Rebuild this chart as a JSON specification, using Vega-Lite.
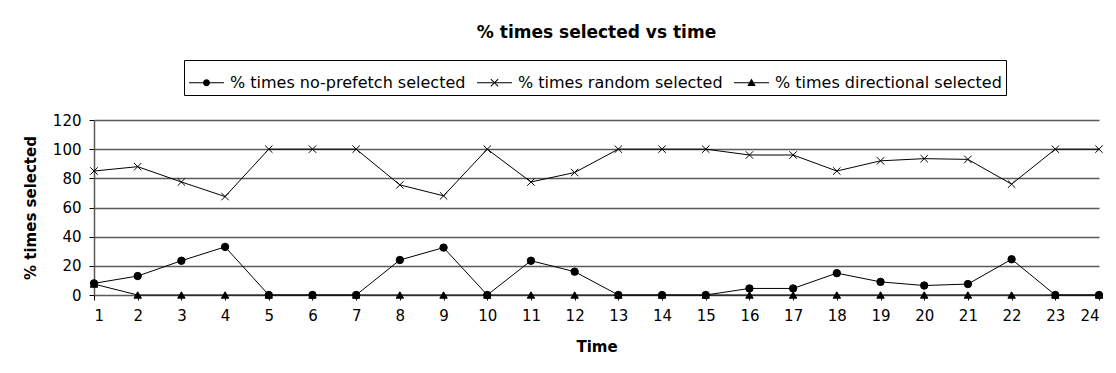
{
  "$schema": "https://vega.github.io/schema/vega-lite/v6.json",
  "autosize": {"type": "none"},
  "width": 1005,
  "height": 175,
  "padding": {"left": 94, "top": 120, "right": 17, "bottom": 78},
  "background": "white",
  "title": {
    "text": "% times selected vs time",
    "font": "DejaVu Sans",
    "fontSize": 17,
    "fontWeight": "bold",
    "color": "black",
    "anchor": "middle",
    "frame": "group",
    "baseline": "bottom",
    "offset": 1
  },
  "config": {
    "view": {"stroke": null},
    "axis": {
      "labelFont": "DejaVu Sans",
      "labelFontSize": 15,
      "labelColor": "black",
      "titleFont": "DejaVu Sans",
      "titleFontSize": 15,
      "titleFontWeight": "bold",
      "titleColor": "black",
      "tickColor": "black",
      "tickSize": 5,
      "domainColor": "black"
    },
    "legend": {
      "labelFont": "DejaVu Sans",
      "labelFontSize": 16,
      "labelColor": "black",
      "labelLimit": 0
    }
  },
  "data": {
    "values": [
      {"t": 1, "series": "% times no-prefetch selected", "v": 8},
      {"t": 2, "series": "% times no-prefetch selected", "v": 13},
      {"t": 3, "series": "% times no-prefetch selected", "v": 23.5},
      {"t": 4, "series": "% times no-prefetch selected", "v": 33},
      {"t": 5, "series": "% times no-prefetch selected", "v": 0},
      {"t": 6, "series": "% times no-prefetch selected", "v": 0},
      {"t": 7, "series": "% times no-prefetch selected", "v": 0},
      {"t": 8, "series": "% times no-prefetch selected", "v": 24},
      {"t": 9, "series": "% times no-prefetch selected", "v": 32.5},
      {"t": 10, "series": "% times no-prefetch selected", "v": 0},
      {"t": 11, "series": "% times no-prefetch selected", "v": 23.5},
      {"t": 12, "series": "% times no-prefetch selected", "v": 16},
      {"t": 13, "series": "% times no-prefetch selected", "v": 0},
      {"t": 14, "series": "% times no-prefetch selected", "v": 0},
      {"t": 15, "series": "% times no-prefetch selected", "v": 0},
      {"t": 16, "series": "% times no-prefetch selected", "v": 4.5},
      {"t": 17, "series": "% times no-prefetch selected", "v": 4.5},
      {"t": 18, "series": "% times no-prefetch selected", "v": 15},
      {"t": 19, "series": "% times no-prefetch selected", "v": 9},
      {"t": 20, "series": "% times no-prefetch selected", "v": 6.5},
      {"t": 21, "series": "% times no-prefetch selected", "v": 7.5},
      {"t": 22, "series": "% times no-prefetch selected", "v": 24.5},
      {"t": 23, "series": "% times no-prefetch selected", "v": 0},
      {"t": 24, "series": "% times no-prefetch selected", "v": 0},
      {"t": 1, "series": "% times random selected", "v": 85},
      {"t": 2, "series": "% times random selected", "v": 88},
      {"t": 3, "series": "% times random selected", "v": 77.5},
      {"t": 4, "series": "% times random selected", "v": 67.5},
      {"t": 5, "series": "% times random selected", "v": 100},
      {"t": 6, "series": "% times random selected", "v": 100},
      {"t": 7, "series": "% times random selected", "v": 100},
      {"t": 8, "series": "% times random selected", "v": 75.5},
      {"t": 9, "series": "% times random selected", "v": 68},
      {"t": 10, "series": "% times random selected", "v": 100},
      {"t": 11, "series": "% times random selected", "v": 77.5},
      {"t": 12, "series": "% times random selected", "v": 84},
      {"t": 13, "series": "% times random selected", "v": 100},
      {"t": 14, "series": "% times random selected", "v": 100},
      {"t": 15, "series": "% times random selected", "v": 100},
      {"t": 16, "series": "% times random selected", "v": 96},
      {"t": 17, "series": "% times random selected", "v": 96},
      {"t": 18, "series": "% times random selected", "v": 85},
      {"t": 19, "series": "% times random selected", "v": 92},
      {"t": 20, "series": "% times random selected", "v": 93.5},
      {"t": 21, "series": "% times random selected", "v": 93},
      {"t": 22, "series": "% times random selected", "v": 76},
      {"t": 23, "series": "% times random selected", "v": 100},
      {"t": 24, "series": "% times random selected", "v": 100},
      {"t": 1, "series": "% times directional selected", "v": 7.5},
      {"t": 2, "series": "% times directional selected", "v": 0},
      {"t": 3, "series": "% times directional selected", "v": 0},
      {"t": 4, "series": "% times directional selected", "v": 0},
      {"t": 5, "series": "% times directional selected", "v": 0},
      {"t": 6, "series": "% times directional selected", "v": 0},
      {"t": 7, "series": "% times directional selected", "v": 0},
      {"t": 8, "series": "% times directional selected", "v": 0},
      {"t": 9, "series": "% times directional selected", "v": 0},
      {"t": 10, "series": "% times directional selected", "v": 0},
      {"t": 11, "series": "% times directional selected", "v": 0},
      {"t": 12, "series": "% times directional selected", "v": 0},
      {"t": 13, "series": "% times directional selected", "v": 0},
      {"t": 14, "series": "% times directional selected", "v": 0},
      {"t": 15, "series": "% times directional selected", "v": 0},
      {"t": 16, "series": "% times directional selected", "v": 0},
      {"t": 17, "series": "% times directional selected", "v": 0},
      {"t": 18, "series": "% times directional selected", "v": 0},
      {"t": 19, "series": "% times directional selected", "v": 0},
      {"t": 20, "series": "% times directional selected", "v": 0},
      {"t": 21, "series": "% times directional selected", "v": 0},
      {"t": 22, "series": "% times directional selected", "v": 0},
      {"t": 23, "series": "% times directional selected", "v": 0},
      {"t": 24, "series": "% times directional selected", "v": 0}
    ]
  },
  "encoding": {
    "x": {
      "field": "t",
      "type": "quantitative",
      "title": "Time",
      "scale": {"domain": [1, 24], "nice": false, "zero": false},
      "axis": {
        "values": [1,2,3,4,5,6,7,8,9,10,11,12,13,14,15,16,17,18,19,20,21,22,23,24],
        "format": "d",
        "grid": false,
        "domain": false,
        "labelPadding": 8,
        "titlePadding": 16
      }
    },
    "y": {
      "field": "v",
      "type": "quantitative",
      "title": "% times selected",
      "scale": {"domain": [0, 120], "nice": false},
      "axis": {
        "values": [0, 20, 40, 60, 80, 100, 120],
        "grid": true,
        "gridColor": "#5a5a5a",
        "gridWidth": 1.5,
        "gridOpacity": 1,
        "domainColor": "#5a5a5a",
        "domainWidth": 1.5,
        "labelPadding": 8,
        "titlePadding": 14
      }
    }
  },
  "layer": [
    {
      "mark": {"type": "line", "color": "black", "strokeWidth": 1},
      "encoding": {"detail": {"field": "series"}}
    },
    {
      "mark": {"type": "point", "filled": false, "stroke": "black", "strokeWidth": 1, "opacity": 1, "size": 55},
      "encoding": {
        "shape": {
          "field": "series",
          "scale": {
            "domain": ["% times no-prefetch selected", "% times random selected", "% times directional selected"],
            "range": ["circle", "M-1,-1L1,1M-1,1L1,-1", "triangle-up"]
          },
          "legend": null
        },
        "fill": {
          "field": "series",
          "scale": {
            "domain": ["% times no-prefetch selected", "% times random selected", "% times directional selected"],
            "range": ["black", "transparent", "black"]
          },
          "legend": null
        }
      }
    },
    {
      "transform": [{"filter": "datum.t < 0"}],
      "mark": {"type": "point", "filled": true, "color": "black", "opacity": 1, "size": 1225},
      "encoding": {
        "shape": {
          "field": "series",
          "scale": {
            "domain": ["% times no-prefetch selected", "% times random selected", "% times directional selected"],
            "range": [
              "M-1,-0.03L1,-0.03L1,0.03L-1,0.03ZM0.2,0A0.2,0.2 0 1,1 -0.2,0A0.2,0.2 0 1,1 0.2,0Z",
              "M-1,-0.03L1,-0.03L1,0.03L-1,0.03ZM-0.23,-0.19L0.19,0.23L0.23,0.19L-0.19,-0.23ZM-0.23,0.19L0.19,-0.23L0.23,-0.19L-0.19,0.23Z",
              "M-1,-0.03L1,-0.03L1,0.03L-1,0.03ZM0,-0.24L0.24,0.18L-0.24,0.18Z"
            ]
          },
          "legend": {
            "title": null,
            "orient": "none",
            "legendX": 90,
            "legendY": -60,
            "direction": "horizontal",
            "strokeColor": "black",
            "padding": 4,
            "columnPadding": 8,
            "labelOffset": 5,
            "labelLimit": 0,
            "symbolSize": 1225,
            "symbolFillColor": "black",
            "symbolOpacity": 1
          }
        }
      }
    }
  ],
  "resolve": {"scale": {"shape": "independent"}}
}
